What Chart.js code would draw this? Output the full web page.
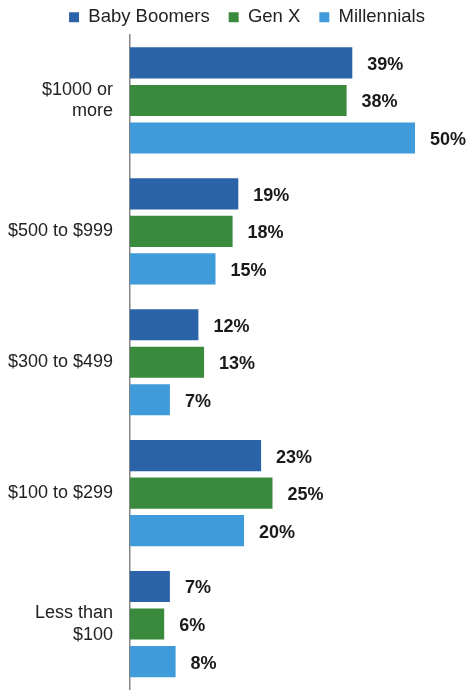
<!DOCTYPE html>
<html>
<head>
<meta charset="utf-8">
<script src="https://cdn.jsdelivr.net/npm/chart.js@4"></script>
<style>
html,body{margin:0;padding:0;background:#fff;}
#wrap{width:474px;height:699px;position:relative;}
</style>
</head>
<body>
<div id="wrap"><canvas id="c" width="474" height="699"></canvas></div>
<script>
const categories = [['$1000 or','more'], '$500 to $999', '$300 to $499', '$100 to $299', ['Less than','$100']];
const seriesNames = ['Baby Boomers', 'Gen X', 'Millennials'];
const babyBoomers = [39, 19, 12, 23, 7];
const genX = [38, 18, 13, 25, 6];
const millennials = [50, 15, 7, 20, 8];
const colors = ['#2B63A8', '#3A8A3D', '#3F9BD9'];
const FONT = "'Liberation Sans', Arial, sans-serif";

const valueLabels = {
  id: 'valueLabels',
  afterDatasetsDraw(chart) {
    const ctx = chart.ctx;
    ctx.save();
    ctx.font = 'bold 18px ' + FONT;
    ctx.fillStyle = '#1a1a1a';
    ctx.textAlign = 'left';
    ctx.textBaseline = 'middle';
    chart.data.datasets.forEach((ds, i) => {
      const meta = chart.getDatasetMeta(i);
      meta.data.forEach((bar, j) => {
        ctx.fillText(ds.data[j] + '%', bar.x + 15, bar.y + 2);
      });
    });
    ctx.restore();
  }
};

// place the legend row in the top strip like the reference (box extended, not clipped)
const legendNudge = {
  id: 'legendNudge',
  afterLayout(chart) {
    const lg = chart.legend;
    if (lg) { lg.top -= 11; lg.left += 11; lg.right += 11; }
  }
};

new Chart(document.getElementById('c'), {
  type: 'bar',
  data: {
    labels: categories,
    datasets: [
      { label: seriesNames[0], data: babyBoomers, backgroundColor: colors[0] },
      { label: seriesNames[1], data: genX, backgroundColor: colors[1] },
      { label: seriesNames[2], data: millennials, backgroundColor: colors[2] }
    ]
  },
  options: {
    indexAxis: 'y',
    responsive: false,
    animation: false,
    devicePixelRatio: 1,
    categoryPercentage: 0.86,
    barPercentage: 0.83,
    layout: { padding: { top: 0, right: 2, bottom: 9.5, left: 0 } },
    plugins: {
      legend: {
        position: 'top',
        align: 'center',
        maxHeight: 35,
        labels: {
          font: { family: FONT, size: 18.5 },
          color: '#222',
          boxWidth: 10,
          boxHeight: 10,
          padding: 19
        }
      },
      tooltip: { enabled: false }
    },
    scales: {
      x: { display: false, min: 0, max: 60 },
      y: {
        afterFit(scale) { scale.width = 130; scale.paddingTop = 0; scale.paddingBottom = 0; },
        grid: { display: false, drawTicks: false },
        border: { display: true, color: '#858585', width: 1.5 },
        ticks: {
          font: { family: FONT, size: 18 },
          color: '#222',
          padding: 17
        }
      }
    }
  },
  plugins: [valueLabels, legendNudge]
});
</script>
</body>
</html>
